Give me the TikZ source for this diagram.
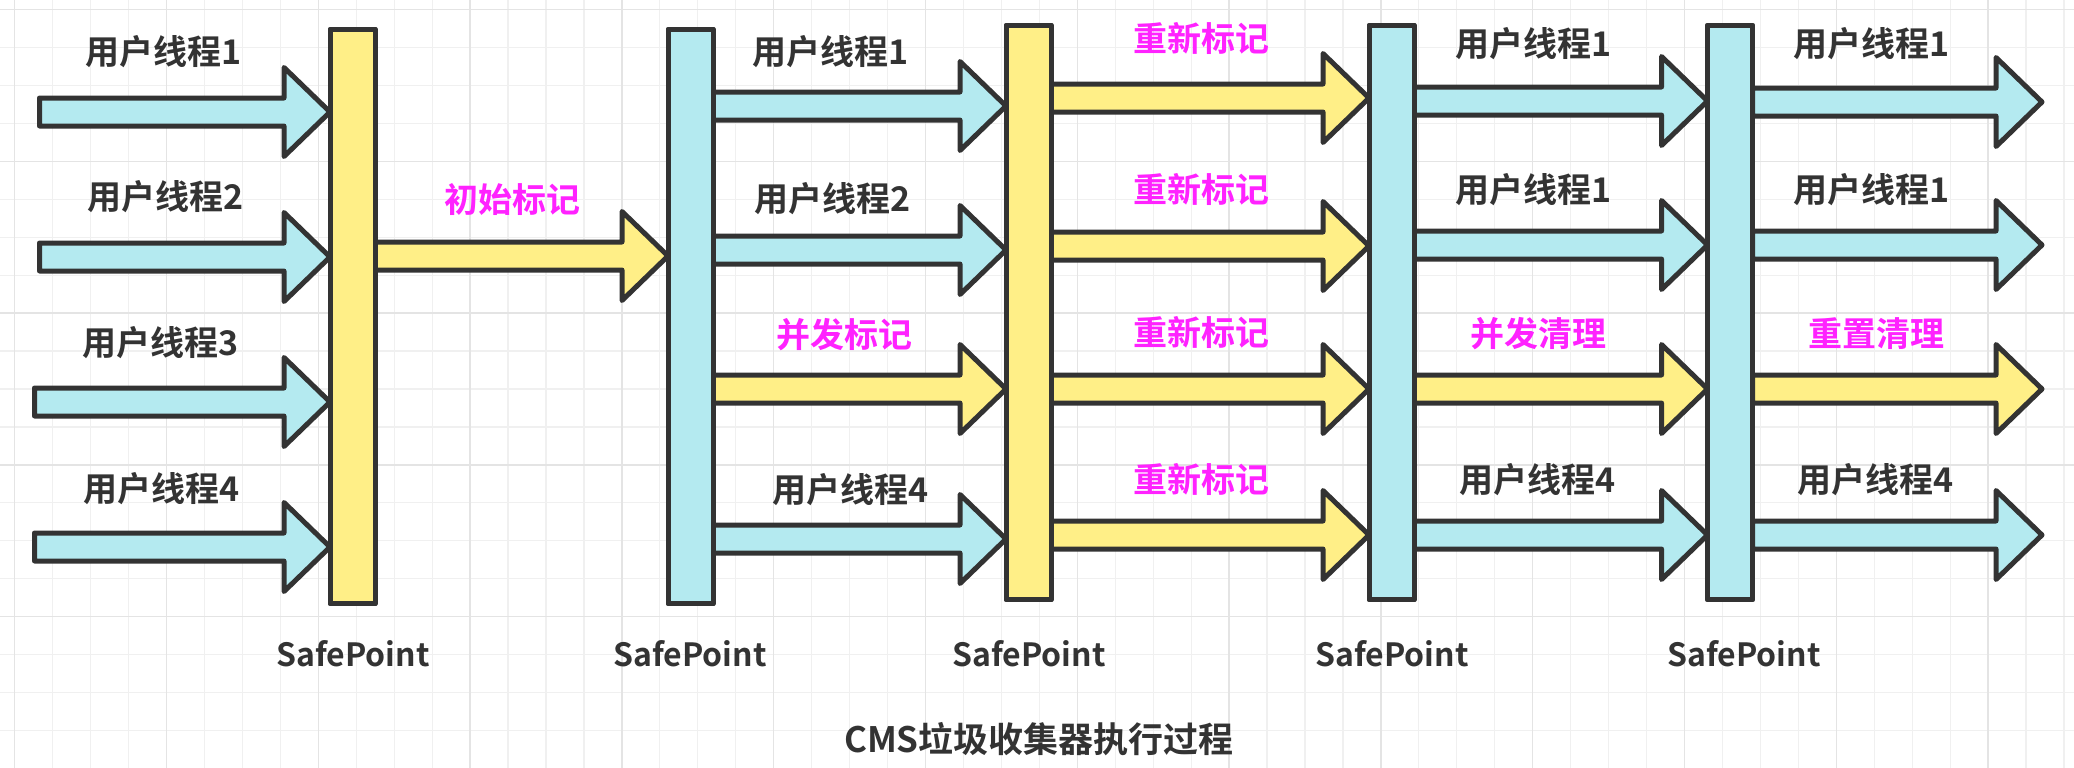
\documentclass[tikz,border=0pt]{standalone}
\usepackage{fontspec}
\setmainfont{Noto Sans CJK SC}[BoldFont={Noto Sans CJK SC Bold}]
\usetikzlibrary{calc}
\definecolor{ink}{HTML}{333333}
\definecolor{yel}{HTML}{FFEF87}
\definecolor{cya}{HTML}{B4EAF0}
\definecolor{mag}{HTML}{FF22FF}
\definecolor{gridminor}{HTML}{F0F0F0}
\definecolor{gridmajor}{HTML}{E4E4E4}
\tikzset{
  bar/.style={draw=ink, line width=5pt, minimum width=45pt, minimum height=574pt, inner sep=0pt, outer sep=0pt, line join=round},
  ybar/.style={bar, fill=yel},
  cbar/.style={bar, fill=cya},
  lbl/.style={font=\fontsize{34}{40}\selectfont\bfseries, text=ink, inner sep=0pt, text height=28.2pt, text depth=2.4pt},
  mlbl/.style={lbl, text=mag},
  sp/.style={font=\fontsize{32}{38}\selectfont\bfseries, text=ink, inner sep=0pt, text height=23.4pt, text depth=0pt},
  arrowline/.style={draw=ink, line width=5pt, line join=round},
  gminor/.style={draw=gridminor, line width=1.2pt},
  gmajor/.style={draw=gridmajor, line width=1.4pt}
}
% #1 fill, #2 start (node anchor / coordinate), #3 end, #4 centre y
\newcommand\blockarr[4]{%
  \path let \p1=(#2), \p2=(#3) in [arrowline, fill=#1]
    (\x1,#4-14) -- (\x2-46pt,#4-14) -- (\x2-46pt,#4-44.5) -- (\x2,#4)
    -- (\x2-46pt,#4+44.5) -- (\x2-46pt,#4+14) -- (\x1,#4+14) -- cycle;%
}
\begin{document}
\begin{tikzpicture}[x=1pt,y=-1pt]
\useasboundingbox (0,0) rectangle (2074,768);
\fill[white] (0,0) rectangle (2074,768);
% grid
\foreach \k in {0,...,54}{\pgfmathsetmacro\gx{14.7+37.95*\k}\draw[gminor] (\gx,0) -- (\gx,768);}
\foreach \k in {0,...,20}{\pgfmathsetmacro\gy{9.5+37.95*\k}\draw[gminor] (0,\gy) -- (2074,\gy);}
\foreach \k in {0,4,...,52}{\pgfmathsetmacro\gx{14.7+37.95*\k}\draw[gmajor] (\gx,0) -- (\gx,768);}
\foreach \k in {0,4,...,20}{\pgfmathsetmacro\gy{9.5+37.95*\k}\draw[gmajor] (0,\gy) -- (2074,\gy);}

% free arrow ends
\coordinate (s1) at (39.5,112);
\coordinate (s2) at (39.5,257);
\coordinate (s3) at (34.5,402);
\coordinate (s4) at (34.5,547);
\coordinate (e1) at (2042,102);
\coordinate (e2) at (2042,245);
\coordinate (e3) at (2042,389);
\coordinate (e4) at (2042,535);
% bars (placed now, drawn on top later)
\path (352.5,316.5) node[bar] (b1) {};
\path (690.5,316.5) node[bar] (b2) {};
\path (1028.5,312.5) node[bar] (b3) {};
\path (1391.5,312.5) node[bar] (b4) {};
\path (1730,312.5) node[bar] (b5) {};

% arrows
\blockarr{cya}{s1}{b1.west}{112}
\blockarr{cya}{s2}{b1.west}{257}
\blockarr{cya}{s3}{b1.west}{402}
\blockarr{cya}{s4}{b1.west}{547}
\blockarr{yel}{b1.east}{b2.west}{256}
\blockarr{cya}{b2.east}{b3.west}{106}
\blockarr{cya}{b2.east}{b3.west}{250}
\blockarr{yel}{b2.east}{b3.west}{389}
\blockarr{cya}{b2.east}{b3.west}{539}
\blockarr{yel}{b3.east}{b4.west}{98}
\blockarr{yel}{b3.east}{b4.west}{246}
\blockarr{yel}{b3.east}{b4.west}{389}
\blockarr{yel}{b3.east}{b4.west}{535}
\blockarr{cya}{b4.east}{b5.west}{101}
\blockarr{cya}{b4.east}{b5.west}{245}
\blockarr{yel}{b4.east}{b5.west}{389}
\blockarr{cya}{b4.east}{b5.west}{535}
\blockarr{cya}{b5.east}{e1}{102}
\blockarr{cya}{b5.east}{e2}{245}
\blockarr{yel}{b5.east}{e3}{389}
\blockarr{cya}{b5.east}{e4}{535}

% bars on top
\node[ybar] at (b1) {};
\node[cbar] at (b2) {};
\node[ybar] at (b3) {};
\node[cbar] at (b4) {};
\node[cbar] at (b5) {};

% labels
\node[lbl] (l11) at (164,52) {用户线程1};
\node[lbl] (l12) at (166,197) {用户线程2};
\node[lbl] (l13) at (161,343) {用户线程3};
\node[lbl] (l14) at (162,489) {用户线程4};
\node[mlbl] (l2) at (512,200) {初始标记};
\node[lbl] (l31) at (831,52) {用户线程1};
\node[lbl] (l32) at (833,199) {用户线程2};
\node[mlbl] (l33) at (844,335) {并发标记};
\node[lbl] (l34) at (851,490) {用户线程4};
\node[mlbl] (l41) at (1201,39) {重新标记};
\node[mlbl] (l42) at (1201,190) {重新标记};
\node[mlbl] (l43) at (1201,333) {重新标记};
\node[mlbl] (l44) at (1201,480) {重新标记};
\node[lbl] (l51) at (1534,44) {用户线程1};
\node[lbl] (l52) at (1534,190) {用户线程1};
\node[mlbl] (l53) at (1538,334) {并发清理};
\node[lbl] (l54) at (1538,480) {用户线程4};
\node[lbl] (l61) at (1872,44) {用户线程1};
\node[lbl] (l62) at (1872,190) {用户线程1};
\node[mlbl] (l63) at (1876,334) {重置清理};
\node[lbl] (l64) at (1876,480) {用户线程4};

\node[sp] (p1) at (353,655) {SafePoint};
\node[sp] (p2) at (690,655) {SafePoint};
\node[sp] (p3) at (1029,655) {SafePoint};
\node[sp] (p4) at (1392,655) {SafePoint};
\node[sp] (p5) at (1744,655) {SafePoint};
\node[lbl, font=\fontsize{35}{40}\selectfont\bfseries, text height=29pt, text depth=2.4pt] (title) at (1039,739) {CMS垃圾收集器执行过程};
\end{tikzpicture}
\end{document}
